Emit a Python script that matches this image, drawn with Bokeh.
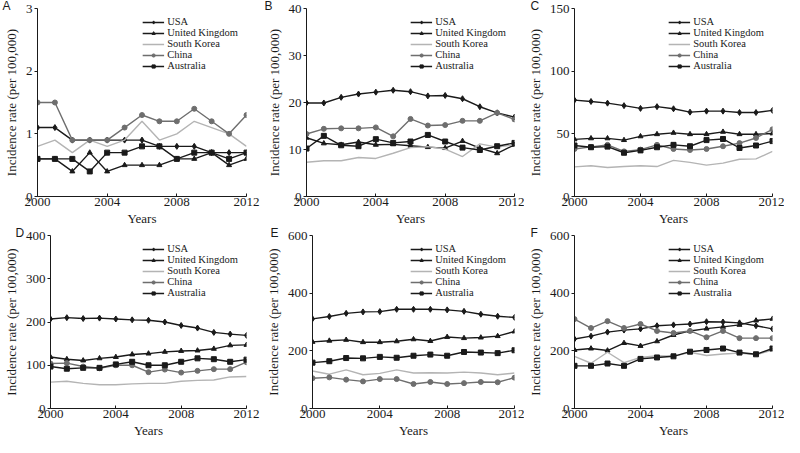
from bokeh.plotting import figure
from bokeh.models import Range1d, FixedTicker, Legend, Title
from bokeh.layouts import column, row
from bokeh.embed import file_html
from bokeh.resources import INLINE

years = list(range(2000, 2013))
countries = ["USA", "United Kingdom", "South Korea", "China", "Australia"]
x_ticks = [2000, 2004, 2008, 2012]
x_title = "Years"
y_title = "Incidence rate (per 100,000)"

# Panel A
usa_a = [1.1, 1.1, 0.9, 0.9, 0.9, 0.9, 0.9, 0.8, 0.8, 0.8, 0.7, 0.7, 0.7]
uk_a = [0.6, 0.6, 0.4, 0.7, 0.4, 0.5, 0.5, 0.5, 0.6, 0.6, 0.7, 0.5, 0.6]
kor_a = [0.8, 0.9, 0.7, 0.9, 0.8, 0.9, 1.2, 0.9, 1.0, 1.2, 1.1, 1.0, 0.8]
chn_a = [1.5, 1.5, 0.9, 0.9, 0.9, 1.1, 1.3, 1.2, 1.2, 1.4, 1.2, 1.0, 1.3]
aus_a = [0.6, 0.6, 0.6, 0.4, 0.7, 0.7, 0.8, 0.8, 0.6, 0.7, 0.7, 0.6, 0.7]
yticks_a = [0, 1, 2, 3]

# Panel B
usa_b = [19.9, 19.9, 21.1, 21.8, 22.2, 22.6, 22.3, 21.4, 21.5, 20.8, 19.1, 17.8, 16.9]
uk_b = [12.5, 11.3, 11.0, 11.6, 11.0, 11.1, 10.8, 10.5, 10.3, 11.8, 10.3, 9.2, 11.0]
kor_b = [7.3, 7.6, 7.6, 8.3, 8.1, 9.2, 10.4, 10.6, 10.1, 8.5, 11.2, 10.5, 11.0]
chn_b = [13.3, 14.4, 14.5, 14.5, 14.7, 12.8, 16.5, 15.1, 15.2, 16.1, 16.1, 17.8, 16.4]
aus_b = [10.2, 12.9, 10.9, 10.7, 12.2, 11.4, 11.7, 13.1, 11.7, 10.4, 9.9, 10.7, 11.4]
yticks_b = [0, 10, 20, 30, 40]

# Panel C
usa_c = [76.9, 75.8, 74.5, 72.5, 70.3, 71.7, 70.0, 67.3, 68.1, 68.1, 67.0, 67.0, 68.7]
uk_c = [45.6, 46.4, 46.4, 45.0, 48.0, 49.7, 50.8, 49.7, 49.7, 51.6, 49.7, 49.7, 50.3]
kor_c = [23.6, 24.5, 23.1, 23.9, 24.5, 23.9, 28.8, 27.2, 25.0, 26.6, 29.7, 30.0, 36.0]
chn_c = [37.9, 39.6, 41.2, 36.0, 37.4, 41.2, 37.9, 37.1, 37.9, 40.1, 42.6, 46.7, 53.6]
aus_c = [40.7, 39.3, 39.8, 34.9, 36.8, 39.3, 41.2, 40.1, 45.0, 45.9, 38.7, 40.7, 44.2]
yticks_c = [0, 50, 100, 150]

# Panel D
usa_d = [207, 210, 208, 209, 207, 205, 204, 200, 192, 186, 176, 172, 169]
uk_d = [119, 114, 111, 116, 119, 125, 127, 131, 133, 134, 138, 146, 147]
kor_d = [61, 63, 58, 55, 55, 57, 58, 58, 63, 65, 66, 73, 74]
chn_d = [104, 105, 97, 93, 100, 100, 84, 90, 83, 87, 91, 91, 107]
aus_d = [97, 92, 94, 94, 102, 108, 100, 100, 108, 116, 114, 108, 113]
yticks_d = [0, 100, 200, 300, 400]

# Panel E
usa_e = [311, 319, 330, 335, 336, 344, 344, 344, 342, 337, 327, 320, 316]
uk_e = [231, 235, 238, 230, 230, 233, 240, 234, 248, 244, 246, 251, 267]
kor_e = [130, 119, 134, 117, 122, 134, 123, 124, 123, 126, 123, 117, 123]
chn_e = [105, 108, 100, 94, 102, 102, 85, 92, 85, 88, 92, 91, 107]
aus_e = [159, 164, 175, 174, 179, 176, 183, 187, 183, 196, 194, 192, 202]
yticks_e = [0, 200, 400, 600]

# Panel F
usa_f = [241, 251, 265, 272, 276, 287, 290, 293, 301, 300, 297, 287, 276]
uk_f = [203, 208, 201, 227, 217, 233, 255, 269, 277, 283, 290, 305, 311]
kor_f = [181, 157, 195, 159, 177, 183, 181, 195, 184, 189, 192, 186, 203]
chn_f = [310, 279, 303, 279, 293, 269, 262, 269, 247, 269, 244, 244, 244]
aus_f = [148, 148, 156, 148, 172, 177, 181, 197, 203, 208, 194, 188, 208]
yticks_f = [0, 200, 400, 600]

SERIF = "Liberation Serif"
DARK = "#1a1a1a"
CHINA = "#6e6e6e"
KOREA = "#b4b4b4"


def panel(letter, yticks, usa, uk, kor, chn, aus, w, h, bl, br, bt, bb):
    ymax = yticks[-1]
    p = figure(width=w, height=h, x_range=Range1d(2000, 2012),
               y_range=Range1d(0, ymax), output_backend="svg",
               toolbar_location=None, min_border_left=bl, min_border_right=br,
               min_border_top=bt, min_border_bottom=bb)
    p.outline_line_color = None
    p.grid.visible = False
    p.background_fill_color = "white"
    p.border_fill_color = "white"

    p.title.text = letter
    p.title.align = "left"
    p.title.offset = -bl + 2
    p.title.standoff = -8
    p.title.text_font = "Liberation Sans"
    p.title.text_font_size = "12px"
    p.title.text_font_style = "normal"
    p.title.text_color = DARK

    lw = 1.4
    r1 = p.line(years, usa, line_color=DARK, line_width=lw)
    r1m = p.scatter(years, usa, marker="diamond", size=6, color=DARK)
    r2 = p.line(years, uk, line_color=DARK, line_width=lw)
    r2m = p.scatter(years, uk, marker="triangle", size=5, color=DARK)
    r3 = p.line(years, kor, line_color=KOREA, line_width=lw)
    r4 = p.line(years, chn, line_color=CHINA, line_width=lw)
    r4m = p.scatter(years, chn, marker="circle", size=5, color=CHINA)
    r5 = p.line(years, aus, line_color=DARK, line_width=lw)
    r5m = p.scatter(years, aus, marker="square", size=5, color=DARK)
    items = [(countries[0], [r1, r1m]), (countries[1], [r2, r2m]),
             (countries[2], [r3]), (countries[3], [r4, r4m]),
             (countries[4], [r5, r5m])]
    leg = Legend(items=items, location="top_right")
    leg.label_text_font = SERIF
    leg.label_text_font_size = "10.5px"
    leg.label_text_color = DARK
    leg.label_text_line_height = 0.9
    leg.glyph_width = 22
    leg.glyph_height = 8
    leg.label_height = 8
    leg.label_standoff = 3
    leg.spacing = -2
    leg.padding = 2
    leg.margin = 6
    leg.border_line_alpha = 0
    leg.background_fill_alpha = 0
    p.add_layout(leg)

    xa = p.xaxis[0]
    xa.ticker = FixedTicker(ticks=x_ticks)
    ya = p.yaxis[0]
    ya.ticker = FixedTicker(ticks=yticks)
    ya.axis_label = y_title
    for ax in (xa, ya):
        ax.axis_line_color = DARK
        ax.major_tick_line_color = DARK
        ax.minor_tick_line_color = None
        ax.major_label_text_font = SERIF
        ax.major_label_text_font_size = "13px"
        ax.major_label_text_color = DARK
        ax.axis_label_text_font = SERIF
        ax.axis_label_text_font_size = "13px"
        ax.axis_label_text_font_style = "normal"
        ax.axis_label_text_color = DARK
    xa.major_tick_in = 3
    xa.major_tick_out = 0
    xa.major_label_standoff = 1
    ya.major_tick_in = 0
    ya.major_tick_out = 3
    ya.major_label_standoff = 2
    ya.axis_label_standoff = 4

    xt = Title(text=x_title, align="center", text_font=SERIF,
               text_font_size="13px", text_font_style="normal",
               text_color=DARK, standoff=0, offset=0)
    p.add_layout(xt, "below")
    return p


H1, H2 = 225, 212
pa = panel("A", yticks_a, usa_a, uk_a, kor_a, chn_a, aus_a, 262, H1, 37, 16, 6, 20)
pb = panel("B", yticks_b, usa_b, uk_b, kor_b, chn_b, aus_b, 262, H1, 44, 10, 6, 20)
pc = panel("C", yticks_c, usa_c, uk_c, kor_c, chn_c, aus_c, 260, H1, 46, 12, 6, 20)
pd_ = panel("D", yticks_d, usa_d, uk_d, kor_d, chn_d, aus_d, 262, H2, 37, 16, 10, 20)
pe = panel("E", yticks_e, usa_e, uk_e, kor_e, chn_e, aus_e, 262, H2, 44, 10, 10, 20)
pf = panel("F", yticks_f, usa_f, uk_f, kor_f, chn_f, aus_f, 260, H2, 46, 12, 10, 20)

layout = column(row(pa, pb, pc), row(pd_, pe, pf))

open("out.html", "w").write(file_html(layout, INLINE))
